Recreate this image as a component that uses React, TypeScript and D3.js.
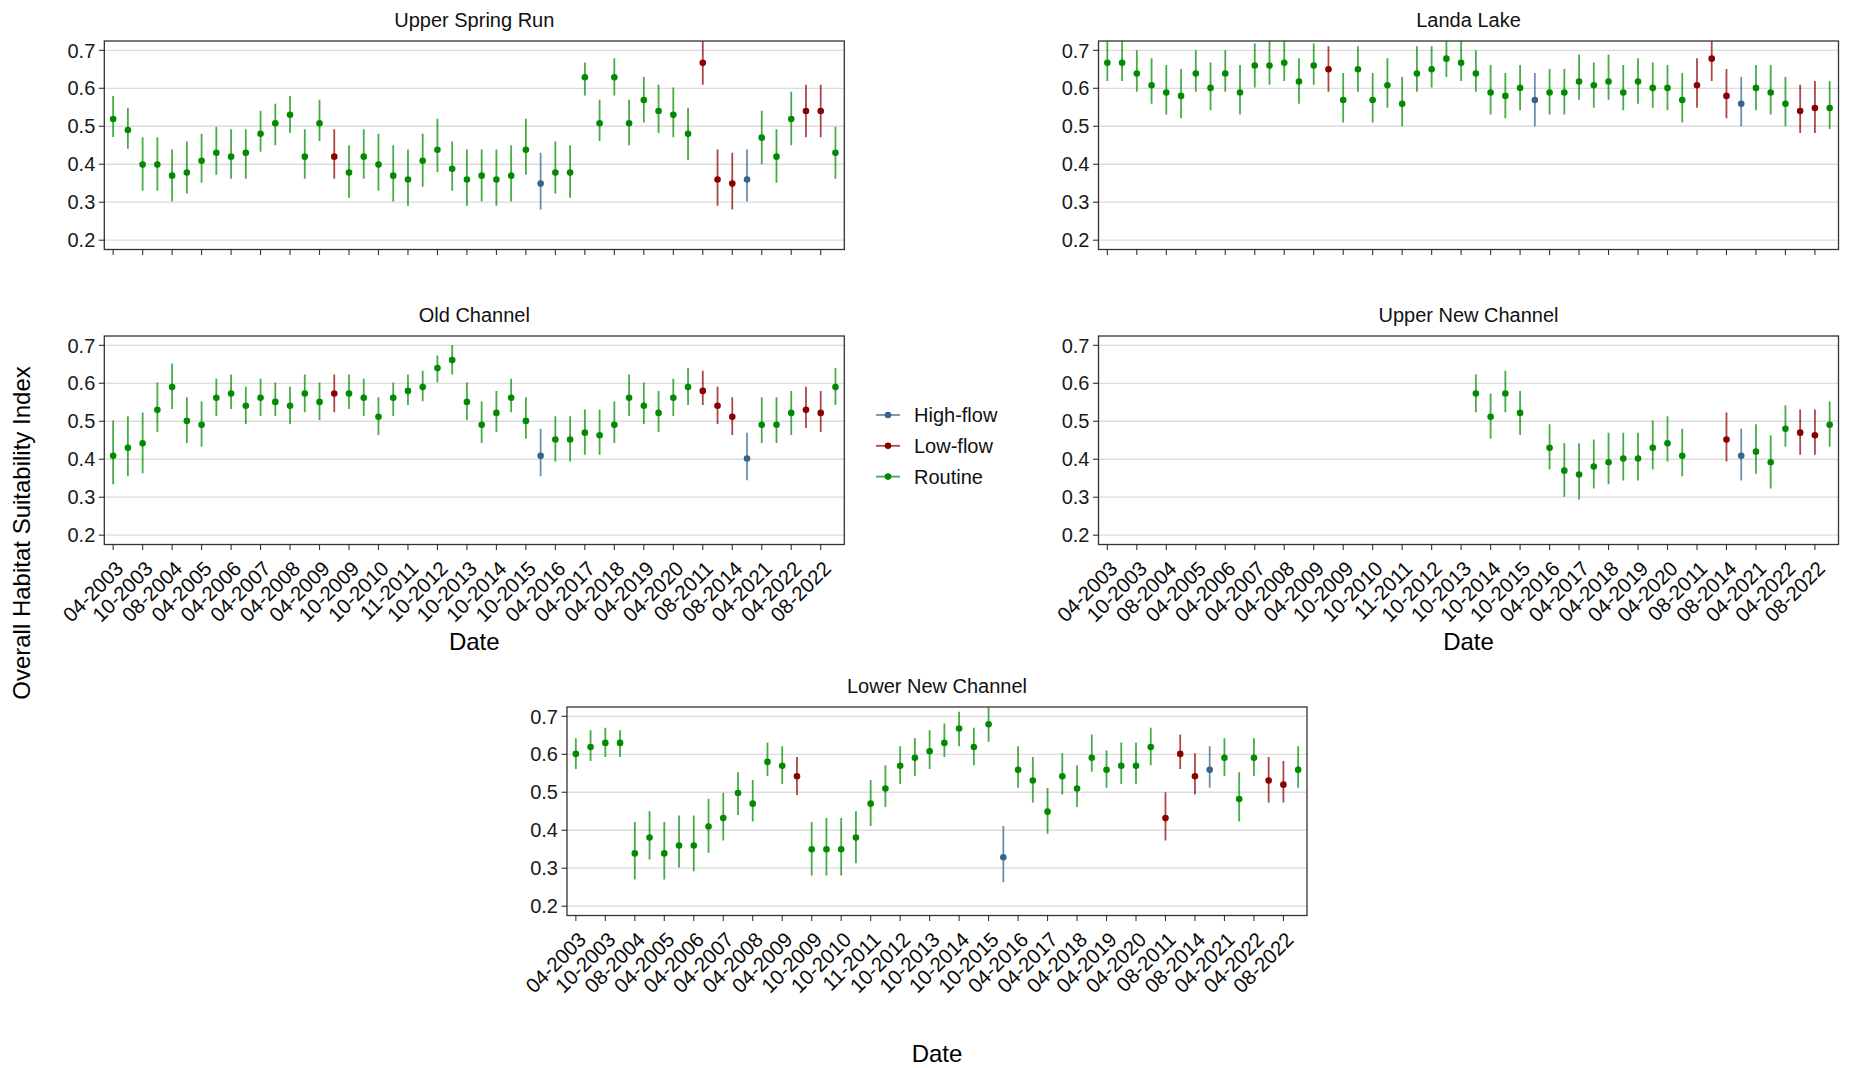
import React from "react";
import * as d3 from "d3";

// ---------- DATA ----------
const tickLabels = [
  "04-2003", "10-2003", "08-2004", "04-2005", "04-2006", "04-2007", "04-2008",
  "04-2009", "10-2009", "10-2010", "11-2011", "10-2012", "10-2013", "10-2014",
  "10-2015", "04-2016", "04-2017", "04-2018", "04-2019", "04-2020", "08-2011",
  "08-2014", "04-2021", "04-2022", "08-2022",
];

// Flow condition for each of the 50 sampling events (R = Routine, L = Low-flow, H = High-flow)
const flowTypes = [
  "R","R","R","R","R","R","R","R","R","R",
  "R","R","R","R","R","L","R","R","R","R",
  "R","R","R","R","R","R","R","R","R","H",
  "R","R","R","R","R","R","R","R","R","R",
  "L","L","L","H","R","R","R","L","L","R",
];

const yTicks = [0.2, 0.3, 0.4, 0.5, 0.6, 0.7];

const legendItems = ["High-flow", "Low-flow", "Routine"];

// Upper Spring Run
const usrMean = [0.519,0.490,0.399,0.399,0.370,0.378,0.409,0.430,0.420,0.430,0.480,0.508,0.530,0.420,0.508,0.420,0.378,0.420,0.399,0.370,0.360,0.409,0.438,0.388,0.360,0.370,0.360,0.370,0.438,0.349,0.378,0.378,0.629,0.508,0.629,0.508,0.569,0.540,0.530,0.480,0.667,0.360,0.349,0.360,0.470,0.420,0.519,0.540,0.540,0.430];
const usrLow = [0.472,0.441,0.330,0.330,0.302,0.323,0.351,0.372,0.362,0.362,0.433,0.450,0.482,0.362,0.461,0.362,0.312,0.362,0.330,0.302,0.291,0.341,0.379,0.330,0.291,0.302,0.291,0.302,0.372,0.281,0.323,0.312,0.581,0.461,0.581,0.450,0.510,0.482,0.471,0.411,0.609,0.291,0.281,0.302,0.400,0.351,0.450,0.471,0.471,0.362];
const usrHigh = [0.580,0.549,0.471,0.471,0.439,0.460,0.480,0.499,0.492,0.492,0.541,0.559,0.580,0.492,0.570,0.492,0.450,0.492,0.480,0.450,0.439,0.480,0.520,0.460,0.439,0.439,0.439,0.450,0.520,0.430,0.460,0.450,0.668,0.570,0.679,0.570,0.630,0.609,0.602,0.549,0.735,0.439,0.430,0.439,0.541,0.492,0.591,0.609,0.609,0.499];

// Landa Lake
const llMean = [0.667,0.667,0.639,0.608,0.589,0.580,0.639,0.601,0.639,0.589,0.660,0.660,0.667,0.618,0.660,0.650,0.569,0.650,0.569,0.608,0.559,0.639,0.650,0.678,0.667,0.639,0.589,0.580,0.601,0.569,0.589,0.589,0.618,0.608,0.618,0.589,0.618,0.601,0.601,0.569,0.608,0.678,0.580,0.559,0.601,0.589,0.559,0.540,0.548,0.548];
const llLow = [0.619,0.619,0.591,0.559,0.531,0.521,0.591,0.542,0.591,0.531,0.602,0.609,0.619,0.559,0.609,0.591,0.510,0.591,0.510,0.549,0.500,0.591,0.602,0.630,0.619,0.591,0.531,0.521,0.542,0.500,0.531,0.531,0.570,0.549,0.570,0.542,0.559,0.549,0.542,0.510,0.549,0.619,0.521,0.500,0.542,0.531,0.500,0.482,0.482,0.493];
const llHigh = [0.730,0.730,0.700,0.679,0.661,0.651,0.700,0.668,0.700,0.661,0.718,0.726,0.730,0.679,0.718,0.711,0.640,0.711,0.640,0.679,0.630,0.711,0.711,0.730,0.730,0.700,0.661,0.640,0.661,0.640,0.651,0.651,0.689,0.668,0.689,0.661,0.679,0.668,0.661,0.640,0.679,0.735,0.651,0.630,0.661,0.661,0.630,0.609,0.619,0.619];

// Old Channel
const ocMean = [0.409,0.430,0.442,0.530,0.590,0.501,0.491,0.562,0.573,0.541,0.562,0.551,0.541,0.573,0.551,0.573,0.573,0.562,0.512,0.562,0.580,0.590,0.640,0.661,0.551,0.491,0.522,0.562,0.501,0.409,0.452,0.452,0.470,0.463,0.491,0.562,0.541,0.522,0.562,0.590,0.580,0.541,0.512,0.402,0.491,0.491,0.522,0.530,0.522,0.590];
const ocLow = [0.334,0.355,0.363,0.472,0.532,0.443,0.433,0.514,0.532,0.493,0.514,0.514,0.493,0.524,0.503,0.524,0.532,0.514,0.464,0.514,0.543,0.553,0.602,0.623,0.503,0.443,0.472,0.524,0.454,0.355,0.394,0.394,0.412,0.412,0.443,0.514,0.493,0.472,0.514,0.543,0.543,0.493,0.464,0.345,0.443,0.443,0.464,0.482,0.472,0.543];
const ocHigh = [0.502,0.513,0.523,0.602,0.652,0.563,0.552,0.612,0.623,0.591,0.612,0.602,0.591,0.623,0.602,0.623,0.623,0.612,0.563,0.602,0.623,0.633,0.673,0.701,0.602,0.552,0.580,0.612,0.563,0.480,0.513,0.513,0.531,0.531,0.552,0.623,0.602,0.580,0.612,0.640,0.633,0.591,0.563,0.470,0.563,0.563,0.580,0.591,0.580,0.640];

// Upper New Channel (not sampled before index 25)
const n = null;
const uncMean = [n,n,n,n,n,n,n,n,n,n,n,n,n,n,n,n,n,n,n,n,n,n,n,n,n,0.573,0.512,0.573,0.522,n,0.430,0.370,0.360,0.381,0.392,0.402,0.402,0.430,0.442,0.409,n,n,0.452,0.409,0.420,0.392,0.480,0.470,0.463,0.491];
const uncLow = [n,n,n,n,n,n,n,n,n,n,n,n,n,n,n,n,n,n,n,n,n,n,n,n,n,0.524,0.454,0.524,0.464,n,0.373,0.301,0.294,0.323,0.334,0.344,0.344,0.373,0.394,0.355,n,n,0.394,0.344,0.362,0.323,0.433,0.412,0.412,0.433];
const uncHigh = [n,n,n,n,n,n,n,n,n,n,n,n,n,n,n,n,n,n,n,n,n,n,n,n,n,0.623,0.573,0.633,0.580,n,0.492,0.442,0.442,0.452,0.470,0.470,0.470,0.502,0.513,0.480,n,n,0.523,0.480,0.492,0.463,0.542,0.531,0.531,0.552];

// Lower New Channel
const lncMean = [0.601,0.619,0.630,0.630,0.339,0.381,0.339,0.360,0.360,0.410,0.432,0.498,0.470,0.580,0.570,0.542,0.350,0.350,0.350,0.381,0.470,0.510,0.570,0.591,0.608,0.630,0.668,0.619,0.679,0.329,0.559,0.531,0.449,0.542,0.510,0.591,0.559,0.570,0.570,0.619,0.432,0.601,0.542,0.559,0.591,0.482,0.591,0.531,0.520,0.559];
const lncLow = [0.561,0.582,0.593,0.593,0.270,0.323,0.270,0.302,0.292,0.341,0.373,0.440,0.423,0.543,0.522,0.493,0.281,0.281,0.281,0.313,0.411,0.461,0.522,0.543,0.561,0.593,0.621,0.571,0.633,0.263,0.512,0.473,0.391,0.494,0.461,0.554,0.512,0.522,0.522,0.571,0.373,0.561,0.494,0.512,0.543,0.423,0.543,0.473,0.473,0.512];
const lncHigh = [0.642,0.663,0.670,0.663,0.422,0.450,0.422,0.439,0.439,0.483,0.499,0.553,0.532,0.631,0.621,0.593,0.422,0.432,0.432,0.450,0.532,0.571,0.621,0.642,0.663,0.681,0.712,0.670,0.730,0.411,0.621,0.593,0.511,0.603,0.571,0.652,0.610,0.631,0.631,0.670,0.500,0.652,0.603,0.621,0.642,0.553,0.642,0.593,0.582,0.621];

// ---------- STYLE ----------
const FONT = "'Liberation Sans', Arial, Helvetica, sans-serif";
const typeColor: Record<string, string> = { H: "#36648B", L: "#8B0000", R: "#008B00" };
const legendColor: Record<string, string> = { "High-flow": "#36648B", "Low-flow": "#8B0000", Routine: "#008B00" };

const PW = 740;
const PH = 208.5;

const panels = [
  { id: "usr", title: "Upper Spring Run", mean: usrMean, low: usrLow, high: usrHigh, left: 104.3, top: 41, labels: false, dateY: 0 },
  { id: "ll", title: "Landa Lake", mean: llMean, low: llLow, high: llHigh, left: 1098.5, top: 41, labels: false, dateY: 0 },
  { id: "oc", title: "Old Channel", mean: ocMean, low: ocLow, high: ocHigh, left: 104.3, top: 336, labels: true, dateY: 650 },
  { id: "unc", title: "Upper New Channel", mean: uncMean, low: uncLow, high: uncHigh, left: 1098.5, top: 336, labels: true, dateY: 650 },
  { id: "lnc", title: "Lower New Channel", mean: lncMean, low: lncLow, high: lncHigh, left: 567, top: 707, labels: true, dateY: 1061.5 },
];

const indices = d3.range(flowTypes.length);

function Panel({ p }: { p: (typeof panels)[number] }) {
  const right = p.left + PW;
  const bottom = p.top + PH;
  const x = d3.scalePoint<number>().domain(indices).range([p.left, right]).padding(0.6);
  const y = d3.scaleLinear().domain([0.1755, 0.7245]).range([bottom, p.top]);
  const clipId = `clip-${p.id}`;
  const cx = (p.left + right) / 2;
  return (
    <g>
      <defs>
        <clipPath id={clipId}>
          <rect x={p.left} y={p.top} width={PW} height={PH} />
        </clipPath>
      </defs>
      <rect x={p.left} y={p.top} width={PW} height={PH} fill="#ffffff" />
      {yTicks.map((t) => (
        <line key={t} x1={p.left} x2={right} y1={y(t)} y2={y(t)} stroke="#DCDCDC" strokeWidth={1.3} />
      ))}
      <g clipPath={`url(#${clipId})`}>
        {indices.map((i) => {
          const m = p.mean[i];
          if (m == null) return null;
          const c = typeColor[flowTypes[i]];
          return (
            <g key={i}>
              <line x1={x(i)} x2={x(i)} y1={y(p.low[i] as number)} y2={y(p.high[i] as number)} stroke={c} strokeOpacity={0.72} strokeWidth={1.8} />
              <circle cx={x(i)} cy={y(m)} r={3.3} fill={c} />
            </g>
          );
        })}
      </g>
      <rect x={p.left} y={p.top} width={PW} height={PH} fill="none" stroke="#333333" strokeWidth={1.3} />
      {yTicks.map((t) => (
        <g key={t}>
          <line x1={p.left - 5.5} x2={p.left} y1={y(t)} y2={y(t)} stroke="#333333" strokeWidth={1.1} />
          <text x={p.left - 9} y={y(t)} dy="0.36em" textAnchor="end" fontSize={20} fill="#1a1a1a" fontFamily={FONT}>
            {t.toFixed(1)}
          </text>
        </g>
      ))}
      {tickLabels.map((lab, k) => {
        const xi = x(k * 2) as number;
        return (
          <g key={k}>
            <line x1={xi} x2={xi} y1={bottom} y2={bottom + 5.5} stroke="#333333" strokeWidth={1.1} />
            {p.labels && (
              <text
                transform={`translate(${xi + 11.5},${bottom + 25.5}) rotate(-45)`}
                textAnchor="end"
                fontSize={20.5}
                fill="#0a0a0a"
                fontFamily={FONT}
              >
                {lab}
              </text>
            )}
          </g>
        );
      })}
      <text x={cx} y={p.top - 14} textAnchor="middle" fontSize={20} fill="#111" fontFamily={FONT}>
        {p.title}
      </text>
      {p.labels && (
        <text x={cx} y={p.dateY} textAnchor="middle" fontSize={24} fill="#000" fontFamily={FONT}>
          Date
        </text>
      )}
    </g>
  );
}

export default function App() {
  return (
    <svg
      width={1849}
      height={1068}
      style={{ position: "absolute", left: 0, top: 0, background: "#fff" }}
      fontFamily={FONT}
    >
      <rect width={1849} height={1068} fill="#ffffff" />
      {panels.map((p) => (
        <Panel key={p.id} p={p} />
      ))}
      <text
        transform="translate(29.5,533) rotate(-90)"
        textAnchor="middle"
        fontSize={24}
        fill="#000"
        fontFamily={FONT}
      >
        Overall Habitat Suitability Index
      </text>
      {legendItems.map((name, k) => {
        const ly = 415 + k * 30.8;
        const c = legendColor[name];
        return (
          <g key={name}>
            <line x1={876} x2={900} y1={ly} y2={ly} stroke={c} strokeOpacity={0.72} strokeWidth={1.8} />
            <circle cx={888} cy={ly} r={3.3} fill={c} />
            <text x={914} y={ly} dy="0.36em" fontSize={20} fill="#111" fontFamily={FONT}>
              {name}
            </text>
          </g>
        );
      })}
    </svg>
  );
}
